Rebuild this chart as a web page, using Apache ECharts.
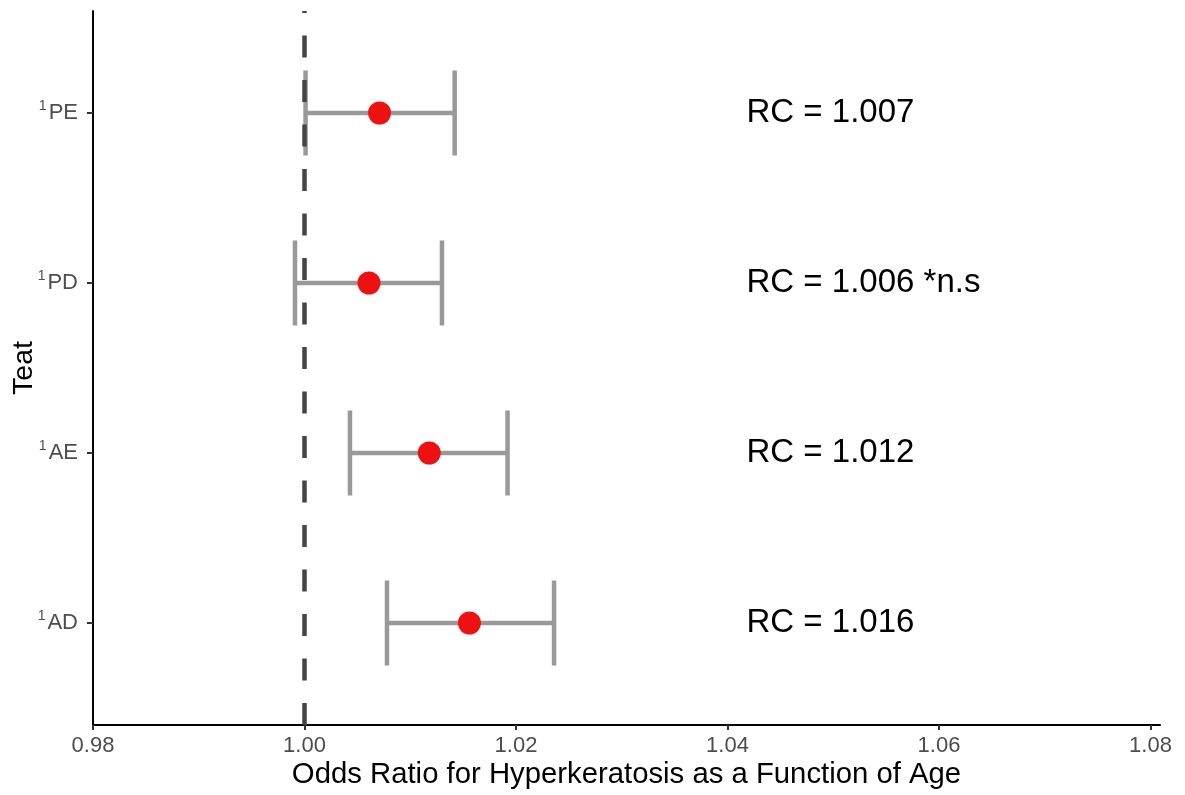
<!DOCTYPE html>
<html>
<head>
<meta charset="utf-8">
<script src="https://cdn.jsdelivr.net/npm/echarts@6/dist/echarts.min.js"></script>
<style>
html,body{margin:0;padding:0;background:#fff;}
#chart{width:1185px;height:795px;}
</style>
</head>
<body>
<div id="chart"></div>
<script>
// Data (bottom to top)
const categories = ['AD', 'AE', 'PD', 'PE'];
const yPositions = [1, 2, 3, 4];
const estimates = [1.0156, 1.0118, 1.0061, 1.0071];
const lowerCI = [1.0078, 1.0043, 0.9991, 1.0001];
const upperCI = [1.0236, 1.0192, 1.0130, 1.0142];
const rcLabels = ['RC = 1.016', 'RC = 1.012', 'RC = 1.006 *n.s', 'RC = 1.007'];
const rcLabelX = 1.0418;
const xTicks = [0.98, 1.00, 1.02, 1.04, 1.06, 1.08];
const refLine = 1.00;

const chart = echarts.init(document.getElementById('chart'), null, {renderer: 'canvas'});
const FONT = '"Liberation Sans", Arial, sans-serif';

const errData = yPositions.map((y, i) => [lowerCI[i], upperCI[i], y]);
const ptData = yPositions.map((y, i) => [estimates[i], y]);
const txtData = yPositions.map((y, i) => [rcLabelX, y, rcLabels[i]]);

const option = {
  backgroundColor: '#fff',
  animation: false,
  grid: {left: 93, right: 25, top: 11, bottom: 70, containLabel: false, outerBoundsMode: 'none'},
  xAxis: {
    type: 'value', min: 0.98, max: 1.0809, interval: 0.02,
    name: 'Odds Ratio for Hyperkeratosis as a Function of Age',
    nameLocation: 'middle', nameGap: 35, nameMoveOverlap: false,
    nameTextStyle: {fontFamily: FONT, fontSize: 29.3, color: '#000'},
    axisLine: {show: true, onZero: false, lineStyle: {color: '#000', width: 2}},
    axisTick: {show: true, length: 5, customValues: xTicks, lineStyle: {color: '#333', width: 2}},
    axisLabel: {customValues: xTicks, margin: 10, fontFamily: FONT, fontSize: 22, color: '#4d4d4d',
      formatter: v => v.toFixed(2)},
    splitLine: {show: false}
  },
  yAxis: {
    type: 'value', min: 0.4, max: 4.6,
    name: 'Teat', nameLocation: 'middle', nameGap: 54, nameRotate: 90, nameMoveOverlap: false,
    nameTextStyle: {fontFamily: FONT, fontSize: 28.5, color: '#000'},
    axisLine: {show: true, onZero: false, lineStyle: {color: '#000', width: 2}},
    axisTick: {show: true, length: 6, customValues: yPositions, lineStyle: {color: '#333', width: 2}},
    axisLabel: {customValues: yPositions, margin: 15, fontFamily: FONT, color: '#4d4d4d',
      formatter: v => '{s|1}{n|' + categories[Math.round(v) - 1] + '}',
      rich: {
        s: {fontFamily: FONT, fontSize: 14, color: '#4d4d4d', padding: [0, 2, 13, 0]},
        n: {fontFamily: FONT, fontSize: 22, color: '#4d4d4d'}
      }
    },
    splitLine: {show: false}
  },
  series: [
    {
      type: 'line', data: [], silent: true,
      markLine: {
        silent: true, symbol: 'none', animation: false,
        label: {show: false},
        lineStyle: {color: '#444', width: 4.5, type: [22, 22.5]},
        data: [[{coord: [refLine, 0.4]}, {coord: [refLine, 4.6]}]]
      }
    },
    {
      type: 'custom', data: errData, silent: true,
      renderItem: function (params, api) {
        const y = api.value(2);
        const p1 = api.coord([api.value(0), y]);
        const p2 = api.coord([api.value(1), y]);
        const half = api.size([0, 0.25])[1];
        const st = {stroke: '#999999', lineWidth: 4.5};
        return {type: 'group', children: [
          {type: 'line', shape: {x1: p1[0], y1: p1[1], x2: p2[0], y2: p2[1]}, style: st},
          {type: 'line', shape: {x1: p1[0], y1: p1[1] - half, x2: p1[0], y2: p1[1] + half}, style: st},
          {type: 'line', shape: {x1: p2[0], y1: p2[1] - half, x2: p2[0], y2: p2[1] + half}, style: st}
        ]};
      }
    },
    {
      type: 'scatter', data: ptData, symbol: 'circle', symbolSize: 23, silent: true,
      itemStyle: {color: '#ee1111', opacity: 1}
    },
    {
      type: 'custom', data: txtData, silent: true,
      renderItem: function (params, api) {
        const p = api.coord([api.value(0), api.value(1)]);
        return {type: 'text', x: p[0], y: p[1], style: {
          text: rcLabels[params.dataIndex], fill: '#000', fontFamily: FONT, fontSize: 33,
          align: 'left', verticalAlign: 'middle'}};
      }
    }
  ]
};
chart.setOption(option);
</script>
</body>
</html>
